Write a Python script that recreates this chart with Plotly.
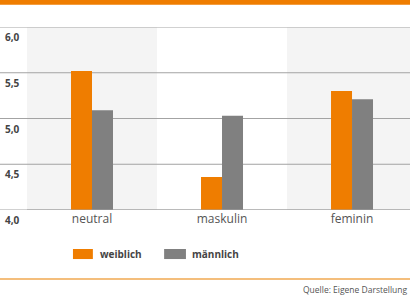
import plotly.graph_objects as go

categories = ["neutral", "maskulin", "feminin"]
series_names = ["weiblich", "männlich"]
weiblich = [5.52, 4.36, 5.30]
maennlich = [5.09, 5.03, 5.21]
y_ticks = [4.0, 4.5, 5.0, 5.5, 6.0]
y_tick_labels = ["4,0", "4,5", "5,0", "5,5", "6,0"]
source_text = "Quelle: Eigene Darstellung"

ORANGE = "#EF7D00"
GREY = "#808080"
GRID = "#A3A3A3"
colors = [ORANGE, GREY]
Y0, Y1 = 4.0, 6.0

fig = go.Figure()
for name, vals, col in zip(series_names, [weiblich, maennlich], colors):
    fig.add_trace(go.Bar(x=categories, y=vals, name=name, marker_color=col,
                         marker_line_width=0, showlegend=False))

shapes = []
# alternating category bands
for i, c in enumerate(categories):
    if i % 2 == 0:
        shapes.append(dict(type="rect", xref="x", yref="y", x0=i - 0.5, x1=i + 0.5,
                           y0=Y0, y1=Y1, fillcolor="#F4F4F4", line_width=0, layer="below"))
# grid lines: inside plot (between bands and bars) + extension into left margin
for v in y_ticks:
    shapes.append(dict(type="line", xref="x", yref="y", x0=-0.5, x1=2.6, y0=v, y1=v,
                       line=dict(color=GRID, width=1), layer="between"))
    shapes.append(dict(type="line", xref="paper", yref="y", x0=-0.08, x1=0.0, y0=v, y1=v,
                       line=dict(color=GRID, width=1), layer="below"))
# axis base line on top of bars
shapes.append(dict(type="line", xref="paper", yref="y", x0=0, x1=1.05, y0=Y0, y1=Y0,
                   line=dict(color=GRID, width=1), layer="above"))
# top orange band
shapes.append(dict(type="rect", xref="paper", yref="paper", x0=-0.08, x1=1.05,
                   y0=1.121, y1=1.16, fillcolor=ORANGE, line_width=0))
# bottom orange rule
shapes.append(dict(type="line", xref="paper", yref="paper", x0=-0.08, x1=1.05,
                   y0=-0.377, y1=-0.377, line=dict(color="#F0A850", width=1.5)))

annotations = []
for v, lab in zip(y_ticks, y_tick_labels):
    annotations.append(dict(xref="paper", yref="paper", x=-0.013, y=(v - Y0 - 0.11) / (Y1 - Y0),
                            text=lab, xanchor="right", yanchor="middle", showarrow=False,
                            font=dict(family="Open Sans", size=10, color="#444444", weight="bold")))

# legend (manual swatches)
leg = [(0.120, 0.172, 0.185), (0.358, 0.415, 0.426)]
for (x0, x1, tx), name, col in zip(leg, series_names, colors):
    shapes.append(dict(type="rect", xref="paper", yref="paper", x0=x0, x1=x1,
                       y0=-0.268, y1=-0.213, fillcolor=col, line_width=0))
    annotations.append(dict(xref="paper", yref="paper", x=tx, y=-0.240, text=name,
                            xanchor="left", yanchor="middle", showarrow=False,
                            font=dict(family="Open Sans", size=10, color="#444444", weight="bold")))

annotations.append(dict(xref="paper", yref="paper", x=0.998, y=-0.437, text=source_text,
                        xanchor="right", yanchor="middle", showarrow=False,
                        font=dict(family="Open Sans", size=8.5, color="#555555")))

fig.update_layout(
    width=410, height=307,
    margin=dict(l=27, r=0, t=27, b=97),
    paper_bgcolor="white", plot_bgcolor="white",
    barmode="group", bargap=0.677, bargroupgap=0,
    shapes=shapes, annotations=annotations,
    xaxis=dict(range=[-0.5, 2.446], showgrid=False, zeroline=False, showline=False,
               ticks="", tickfont=dict(family="Open Sans", size=12, color="#555555")),
    yaxis=dict(range=[Y0, Y1], showgrid=False, zeroline=False, showline=False,
               showticklabels=False, ticks=""),
)

fig.write_html("out.html")
